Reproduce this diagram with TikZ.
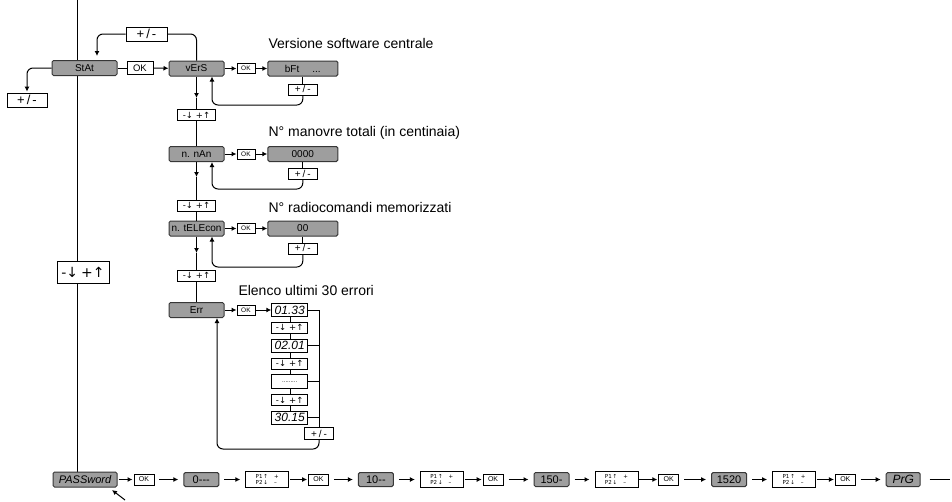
\documentclass[tikz,border=0pt]{standalone}
\usepackage{fontspec}
\setmainfont{Liberation Sans}
\newfontfamily\symfont{DejaVu Sans}
\usetikzlibrary{positioning}
\usetikzlibrary{arrows.meta}
\usetikzlibrary{backgrounds}
\definecolor{lcdgray}{RGB}{158,158,158}
\definecolor{lcdedge}{RGB}{55,55,55}
\newcommand{\pmsign}{+\kern2pt/\kern2pt-}
\newcommand{\udsign}{{\symfont -↓\kern3pt+↑}}
\newcommand{\psign}{P1\,↑\hspace{6pt}+\\P2\,↓\hspace{6pt}–}

\tikzset{
  lcd/.style={draw=lcdedge, fill=lcdgray, line width=1pt, rounded corners=1.5pt, inner sep=0pt, minimum height=15pt, font=\fontsize{10}{11}\selectfont},
  keybox/.style={draw, fill=white, line width=0.8pt, inner sep=0pt},
  okkey/.style={keybox, minimum width=18pt, minimum height=10pt, font=\fontsize{6.5}{7}\selectfont},
  bigok/.style={keybox, minimum width=26pt, minimum height=13pt, font=\fontsize{9.5}{10}\selectfont},
  pmkey/.style={keybox, minimum width=29pt, minimum height=11pt, font=\fontsize{10}{11}\selectfont},
  udkey/.style={keybox, minimum width=38pt, minimum height=11pt, font=\fontsize{8.5}{9}\selectfont},
  digitbox/.style={keybox, minimum width=36pt, minimum height=13pt, font=\itshape\fontsize{12}{12}\selectfont},
  pkey/.style={keybox, minimum width=43pt, minimum height=16pt, align=left, font=\symfont\fontsize{5.5}{6.2}\selectfont},
  codebox/.style={lcd, minimum width=35pt, minimum height=14pt, font=\fontsize{11}{12}\selectfont},
  notetext/.style={anchor=base west, inner sep=0pt, font=\fontsize{14}{16}\selectfont},
  arr/.style={-{Latex[length=5pt,width=5pt]}},
  tightarrow/.style={arr, shorten <=1pt, shorten >=1pt},
  gaparrow/.style={arr, shorten <=5pt, shorten >=5pt},
}

\begin{document}
\begin{tikzpicture}[x=1pt, y=-1pt, line width=1pt]
    \useasboundingbox (0,0) rectangle (952,501);

    % STAt with its +/- keys
    \node[lcd, minimum width=65pt] (stat) at (84.5,68) {StAt};
    \node[pmkey, minimum width=40pt, minimum height=14pt, font=\fontsize{13}{14}\selectfont] (pmstat) at (27,100) {\pmsign};
    \node[pmkey, minimum width=41pt, minimum height=14pt, font=\fontsize{13}{14}\selectfont] (pmtop) at (146.5,34) {\pmsign};
    \node[bigok, right=9pt of stat] (okstat) {OK};
    \draw (stat) -- (okstat);
    \draw[arr, rounded corners=6pt, shorten >=4pt] (pmtop.west) -| ([xshift=12.5pt]stat.north);
    \draw[arr, rounded corners=6pt, shorten >=1pt] (stat.west) -| (pmstat.north);

    % vErS
    \node[lcd, minimum width=55pt] (vers) at (196.5,68.5) {vErS};
    \node[okkey, right=12pt of vers] (okvers) {OK};
    \node[lcd, minimum width=70pt, right=12pt of okvers] (bft) {bFt\hspace{13pt}...\hspace{22pt}};
    \node[pmkey, below=7pt of bft] (pmvers) {\pmsign};
    \node[notetext] (tvers) at (268,48) {Versione software centrale};
    \draw[arr] (okstat) -- (vers);
    \draw[rounded corners=6pt] (pmtop.east) -| (vers.north);
    \draw[arr] (vers) -- (okvers);
    \draw[arr] (okvers) -- (bft);
    \draw (bft) -- (pmvers);
    \coordinate (lp1) at (212,105);
    \draw[arr, rounded corners=6pt] (pmvers.south) |- (lp1) -- (lp1 |- vers.south);

    % n. nAn
    \node[udkey] (ud1) at (196.5,115) {\udsign};
    \coordinate (a1) at (196.5,98);
    \draw[arr] (vers) -- (a1);
    \draw (a1) -- (ud1);
    \node[lcd, minimum width=55pt] (nman) at (196.5,154) {n. nAn};
    \node[okkey, right=12pt of nman] (oknman) {OK};
    \node[lcd, minimum width=70pt, right=12pt of oknman] (vman) {0000};
    \node[pmkey, below=6pt of vman] (pmnman) {\pmsign};
    \node[notetext] (tman) at (268,136) {N° manovre totali (in centinaia)};
    \draw (ud1) -- (nman);
    \draw[arr] (nman) -- (oknman);
    \draw[arr] (oknman) -- (vman);
    \draw (vman) -- (pmnman);
    \coordinate (lp2) at (212,189);
    \draw[arr, rounded corners=6pt] (pmnman.south) |- (lp2) -- (lp2 |- nman.south);

    % n. tELEcon
    \node[udkey] (ud2) at (196.5,205.5) {\udsign};
    \coordinate (a2) at (196.5,177);
    \draw[arr] (nman) -- (a2);
    \draw (a2) -- (ud2);
    \node[lcd, minimum width=55pt] (ntel) at (196.5,228.5) {n. tELEcon};
    \node[okkey, right=12pt of ntel] (okntel) {OK};
    \node[lcd, minimum width=70pt, right=12pt of okntel] (vtel) {00};
    \node[pmkey, below=6pt of vtel] (pmntel) {\pmsign};
    \node[notetext] (ttel) at (268,212) {N° radiocomandi memorizzati};
    \draw (ud2) -- (ntel);
    \draw[arr] (ntel) -- (okntel);
    \draw[arr] (okntel) -- (vtel);
    \draw (vtel) -- (pmntel);
    \coordinate (lp3) at (212,267);
    \draw[arr, rounded corners=6pt] (pmntel.south) |- (lp3) -- (lp3 |- ntel.south);

    % Err
    \node[udkey] (ud3) at (196.5,275.5) {\udsign};
    \coordinate (a3) at (196.5,253);
    \draw[arr] (ntel) -- (a3);
    \draw (a3) -- (ud3);
    \node[lcd, minimum width=55pt] (err) at (196.5,310) {Err};
    \node[okkey, right=12pt of err] (okerr) {OK};
    \node[notetext] (terr) at (238,295) {Elenco ultimi 30 errori};
    \draw (ud3) -- (err);
    \draw[arr] (err) -- (okerr);

    % error list
    \node[digitbox, right=16pt of okerr] (e1) {01.33};
    \node[udkey, minimum width=36pt, below=5pt of e1] (ud4) {\udsign};
    \node[digitbox, below=5pt of ud4] (e2) {02.01};
    \node[udkey, minimum width=36pt, below=5pt of e2] (ud5) {\udsign};
    \node[digitbox, minimum height=14pt, font=\fontsize{6}{6}\selectfont, below=5pt of ud5] (e3) {.........};
    \node[udkey, minimum width=36pt, below=5pt of e3] (ud6) {\udsign};
    \node[digitbox, below=5pt of ud6] (e4) {30.15};
    \node[pmkey, minimum height=12pt] (pmerr) at (319,433.5) {\pmsign};
    \draw[arr] (okerr) -- (e1);
    \begin{scope}[on background layer]
        \draw (e1) -- (e4);
    \end{scope}
    \draw (e1.east) -| (pmerr.north);
    \draw (e2.east) -- (e2.east -| pmerr.north);
    \draw (e3.east) -- (e3.east -| pmerr.north);
    \draw (e4.east) -- (e4.east -| pmerr.north);
    \coordinate (lp4) at (217,449);
    \draw[arr, rounded corners=6pt] (pmerr.south) |- (lp4) -- (lp4 |- err.south);

    % PASSword row
    \node[lcd, minimum width=64pt, font=\itshape\fontsize{11}{12}\selectfont] (pw) at (85,479.5) {PASSword};
    \node[okkey, minimum width=20pt, minimum height=11pt, font=\fontsize{7}{8}\selectfont, right=16pt of pw] (okp1) {OK};
    \node[codebox, right=29pt of okp1] (g0) {0-{}-{}-};
    \node[pkey, right=26pt of g0] (pk1) {\psign};
    \node[okkey, minimum width=20pt, minimum height=11pt, font=\fontsize{7}{8}\selectfont, right=19pt of pk1] (okp2) {OK};
    \node[codebox, right=29pt of okp2] (g10) {10-{}-};
    \node[pkey, right=26pt of g10] (pk2) {\psign};
    \node[okkey, minimum width=20pt, minimum height=11pt, font=\fontsize{7}{8}\selectfont, right=19pt of pk2] (okp3) {OK};
    \node[codebox, right=30pt of okp3] (g150) {150-};
    \node[pkey, right=25pt of g150] (pk3) {\psign};
    \node[okkey, minimum width=20pt, minimum height=11pt, font=\fontsize{7}{8}\selectfont, right=20pt of pk3] (okp4) {OK};
    \node[codebox, right=32pt of okp4] (g1520) {1520};
    \node[pkey, right=25pt of g1520] (pk4) {\psign};
    \node[okkey, minimum width=20pt, minimum height=11pt, font=\fontsize{7}{8}\selectfont, right=19pt of pk4] (okp5) {OK};
    \node[codebox, minimum width=34pt, font=\itshape\fontsize{12}{12}\selectfont, right=30pt of okp5] (prg) {PrG};
    \coordinate (pend) at (950,479.5);
    \draw[tightarrow] (pw) -- (okp1);
    \draw[gaparrow] (okp1) -- (g0);
    \draw[gaparrow] (g0) -- (pk1);
    \draw[tightarrow] (pk1) -- (okp2);
    \draw[gaparrow] (okp2) -- (g10);
    \draw[gaparrow] (g10) -- (pk2);
    \draw[tightarrow] (pk2) -- (okp3);
    \draw[gaparrow] (okp3) -- (g150);
    \draw[gaparrow] (g150) -- (pk3);
    \draw[tightarrow] (pk3) -- (okp4);
    \draw[gaparrow] (okp4) -- (g1520);
    \draw[gaparrow] (g1520) -- (pk4);
    \draw[tightarrow] (pk4) -- (okp5);
    \draw[gaparrow] (okp5) -- (prg);
    \draw[shorten <=9pt] (prg) -- (pend);
    \coordinate (ptail) at (125,500);
    \coordinate (ptip) at (112,490);
    \draw[arr] (ptail) -- (ptip);

    % main line with the big key
    \node[udkey, minimum width=52pt, minimum height=22pt, font=\fontsize{14}{15}\selectfont] (udmain) at (83,272) {\udsign};
    \coordinate (top) at (77,0);
    \begin{scope}[on background layer]
        \draw (top) -- (top |- pw.north);
    \end{scope}

\end{tikzpicture}
\end{document}
